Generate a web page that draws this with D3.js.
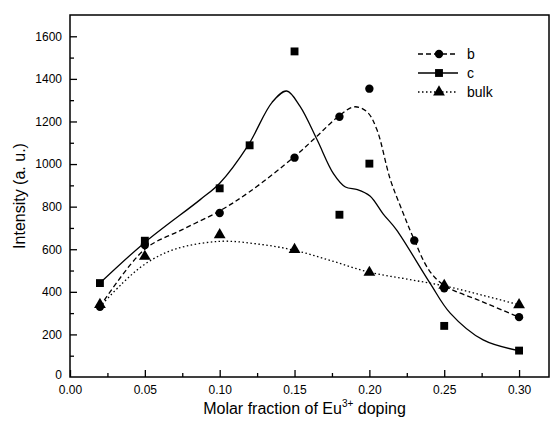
<!DOCTYPE html>
<html>
<head>
<meta charset="utf-8">
<script src="https://cdn.jsdelivr.net/npm/d3@7"></script>
<style>
  body { margin: 0; background: #fff; }
  svg text { font-family: "Liberation Sans", Arial, sans-serif; fill: #000; }
</style>
</head>
<body>
<svg id="chart" width="553" height="426"></svg>
<script>
// measured points
var xs_b = [0.02, 0.05, 0.10, 0.15, 0.18, 0.20, 0.23, 0.25, 0.30];
var b_vals = [330, 620, 770, 1030, 1222, 1354, 641, 417, 281];
var xs_c = [0.02, 0.05, 0.10, 0.12, 0.15, 0.18, 0.20, 0.25, 0.30];
var c_vals = [441, 640, 886, 1088, 1529, 762, 1002, 240, 124];
var xs_bulk = [0.02, 0.05, 0.10, 0.15, 0.20, 0.25, 0.30];
var bulk_vals = [340, 566, 668, 598, 491, 430, 339];

// fitted curves
var fit_b_x = [0.02, 0.05, 0.075, 0.10, 0.12, 0.15, 0.165, 0.179, 0.19, 0.1986, 0.205, 0.214, 0.222, 0.229, 0.24, 0.25, 0.275, 0.30];
var fit_b_y = [330, 600, 692, 780, 870, 1035, 1131, 1222, 1269, 1244, 1162, 927, 780, 660, 500, 430, 355, 281];
var fit_c_x = [0.02, 0.05, 0.087, 0.10, 0.119, 0.135, 0.1447, 0.1536, 0.165, 0.176, 0.184, 0.192, 0.2004, 0.2093, 0.218, 0.2405, 0.254, 0.276, 0.30];
var fit_c_y = [441, 632, 833, 910, 1088, 1290, 1343, 1272, 1115, 955, 892, 880, 850, 765, 692, 441, 300, 174, 124];
var fit_bulk_x = [0.02, 0.035, 0.05, 0.07, 0.10, 0.125, 0.15, 0.175, 0.20, 0.225, 0.25, 0.275, 0.30];
var fit_bulk_y = [330, 440, 530, 600, 637, 625, 595, 545, 492, 460, 428, 385, 339];

var legend_names = ["b", "c", "bulk"];

var svg = d3.select("#chart"),
    margin = {top: 15, right: 4, bottom: 49, left: 70},
    width = 553 - margin.left - margin.right,
    height = 426 - margin.top - margin.bottom,
    g = svg.append("g").attr("transform", "translate(" + margin.left + "," + margin.top + ")");

var x = d3.scaleLinear().domain([0, 0.32]).range([0, width]);
var y = d3.scaleLinear().domain([0, 1700]).range([height, 0]);

// frame
g.append("rect")
    .attr("width", width).attr("height", height)
    .attr("fill", "none").attr("stroke", "#000").attr("stroke-width", 1.5);

// minor ticks
g.append("g")
    .attr("transform", "translate(0," + height + ")")
    .call(d3.axisBottom(x).tickValues(d3.range(0.025, 0.32, 0.05)).tickSize(-4).tickFormat(""))
    .call(function (s) { s.select(".domain").remove(); });
g.append("g")
    .call(d3.axisLeft(y).tickValues(d3.range(100, 1700, 200)).tickSize(-4).tickFormat(""))
    .call(function (s) { s.select(".domain").remove(); });

// major ticks
var xAxis = g.append("g")
    .attr("transform", "translate(0," + height + ")")
    .call(d3.axisBottom(x).tickValues(d3.range(0, 0.31, 0.05)).tickSize(-7).tickPadding(8).tickFormat(d3.format(".2f")));
xAxis.select(".domain").remove();
xAxis.selectAll("text").attr("font-size", 12);

var yAxis = g.append("g")
    .call(d3.axisLeft(y).tickValues(d3.range(0, 1700, 200)).tickSize(-7).tickPadding(8).tickFormat(d3.format("d")));
yAxis.select(".domain").remove();
yAxis.selectAll("text").attr("font-size", 12);
yAxis.selectAll(".tick").filter(function (d) { return d === 0; })
    .call(function (t) { t.select("line").remove(); t.select("text").attr("dy", "0.1em"); });
svg.selectAll(".tick line").attr("stroke-width", 1.3);

// axis titles
svg.append("text")
    .attr("x", margin.left + width / 2 - 5).attr("y", 414)
    .attr("text-anchor", "middle").attr("font-size", 16)
    .html('Molar fraction of Eu<tspan dy="-7" font-size="10">3+</tspan><tspan dy="7"> doping</tspan>');
svg.append("text")
    .attr("transform", "translate(25," + (margin.top + height / 2) + ") rotate(-90)")
    .attr("text-anchor", "middle").attr("font-size", 16)
    .text("Intensity (a. u.)");

// curves
var line = d3.line()
    .x(function (d) { return x(d[0]); })
    .y(function (d) { return y(d[1]); })
    .curve(d3.curveCatmullRom.alpha(0.5));

var dashes = ["5,3", null, "1.5,2.5"];
var fits = [d3.zip(fit_b_x, fit_b_y), d3.zip(fit_c_x, fit_c_y), d3.zip(fit_bulk_x, fit_bulk_y)];
fits.forEach(function (f, i) {
    g.append("path")
        .datum(f)
        .attr("d", line)
        .attr("fill", "none")
        .attr("stroke", "#000")
        .attr("stroke-width", 1.3)
        .attr("stroke-dasharray", dashes[i]);
});

// markers
var symbols = [d3.symbolCircle, d3.symbolSquare, d3.symbolTriangle];
var sizes = [55, 62, 60];
var pts = [d3.zip(xs_b, b_vals), d3.zip(xs_c, c_vals), d3.zip(xs_bulk, bulk_vals)];
pts.forEach(function (p, i) {
    g.append("g").selectAll("path")
        .data(p)
        .enter()
        .append("path")
        .attr("transform", function (d) { return "translate(" + x(d[0]) + "," + y(d[1]) + ")"; })
        .attr("d", d3.symbol().type(symbols[i]).size(sizes[i]))
        .attr("fill", "#000");
});

// legend
var lg = svg.append("g").attr("transform", "translate(418,54)");
legend_names.forEach(function (name, i) {
    var row = lg.append("g").attr("transform", "translate(0," + (i * 19) + ")");
    row.append("line")
        .attr("x1", 0).attr("x2", 40)
        .attr("stroke", "#000").attr("stroke-width", 1.3)
        .attr("stroke-dasharray", dashes[i]);
    row.append("path")
        .attr("transform", "translate(21,0)")
        .attr("d", d3.symbol().type(symbols[i]).size(sizes[i]))
        .attr("fill", "#000");
    row.append("text")
        .attr("x", 49).attr("y", 5)
        .attr("font-size", 14)
        .text(name);
});
</script>
</body>
</html>
